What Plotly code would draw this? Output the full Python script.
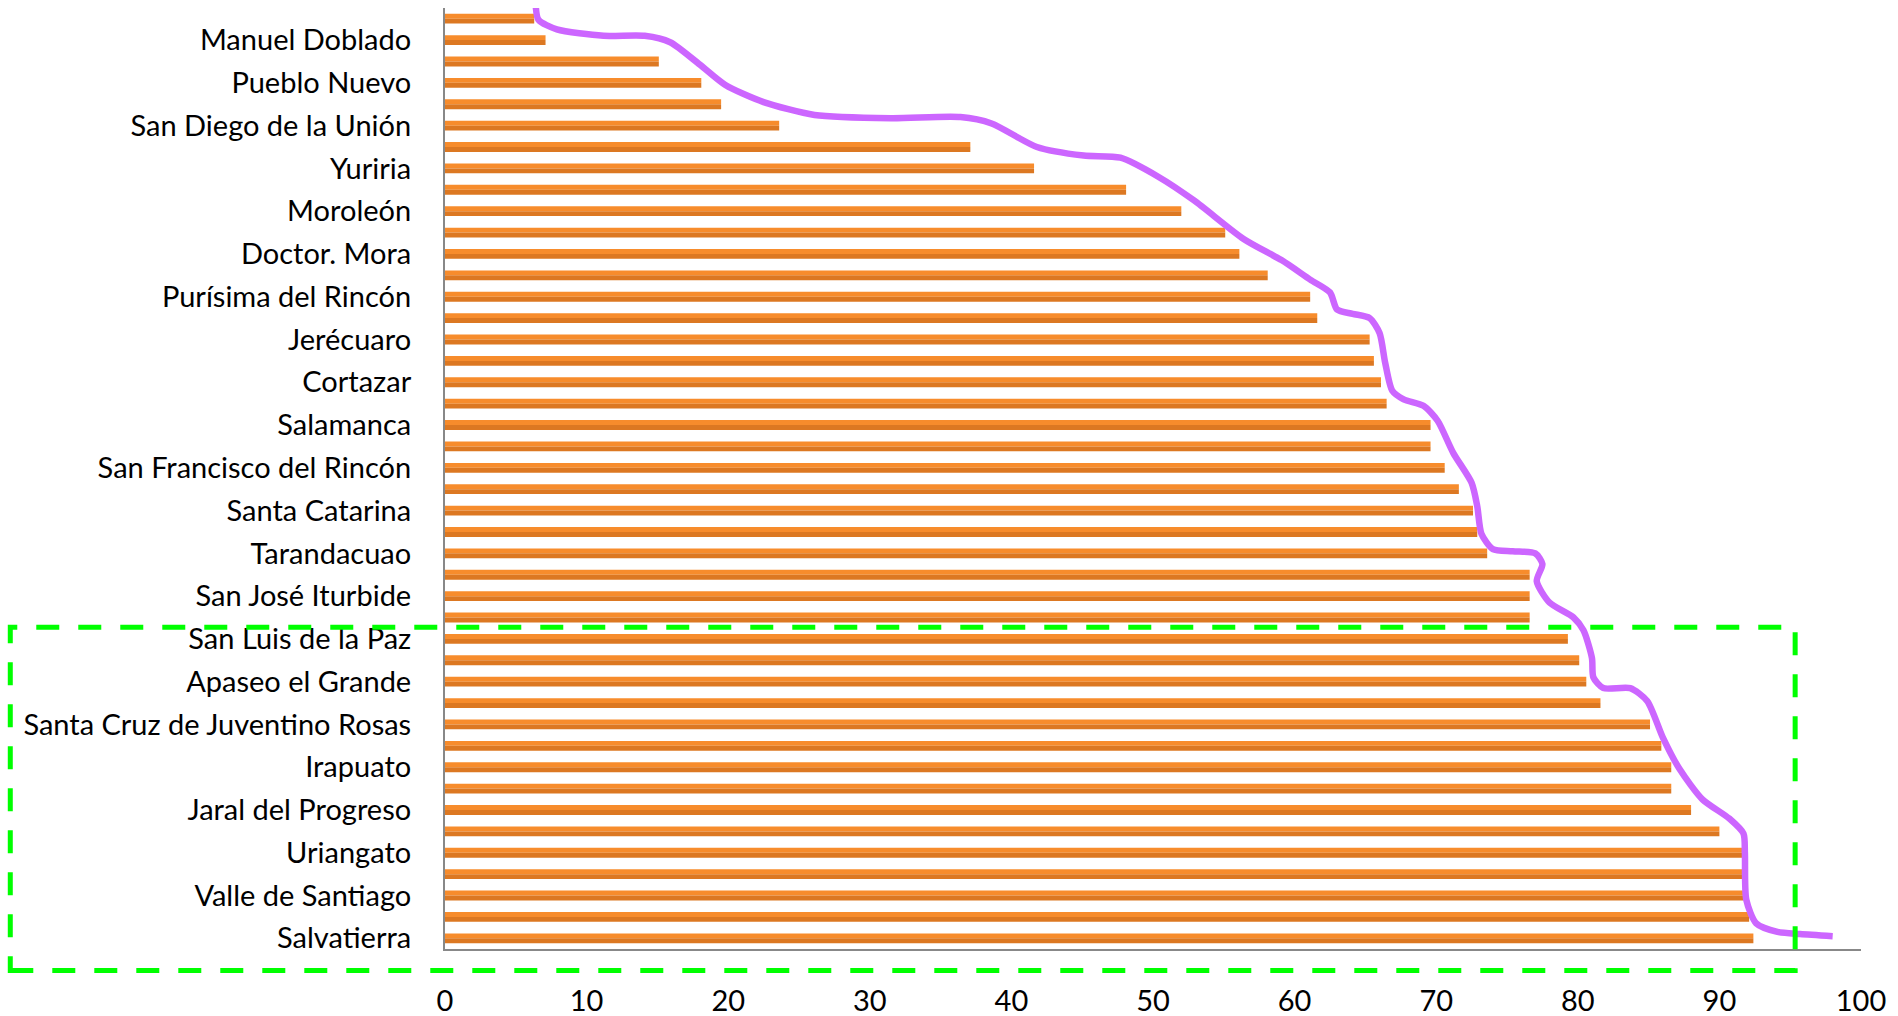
import plotly.graph_objects as go

# ---------------- data ----------------
# 44 municipalities, top to bottom; only every other one carries a visible label
labels_shown = [
    "Manuel Doblado", "Pueblo Nuevo", "San Diego de la Unión", "Yuriria",
    "Moroleón", "Doctor. Mora", "Purísima del Rincón", "Jerécuaro",
    "Cortazar", "Salamanca", "San Francisco del Rincón", "Santa Catarina",
    "Tarandacuao", "San José Iturbide", "San Luis de la Paz",
    "Apaseo el Grande", "Santa Cruz de Juventino Rosas", "Irapuato",
    "Jaral del Progreso", "Uriangato", "Valle de Santiago", "Salvatierra",
]

values = [
    6.3, 7.1, 15.1, 18.1, 19.5, 23.6, 37.1, 41.6, 48.1, 52.0, 55.1,
    56.1, 58.1, 61.1, 61.6, 65.3, 65.6, 66.1, 66.5, 69.6, 69.6, 70.6,
    71.6, 72.6, 72.9, 73.6, 76.6, 76.6, 76.6, 79.3, 80.1, 80.6, 81.6,
    85.1, 85.9, 86.6, 86.6, 88.0, 90.0, 91.6, 91.6, 91.7, 92.1, 92.4,
]

x_ticks = [0, 10, 20, 30, 40, 50, 60, 70, 80, 90, 100]

# hand-drawn purple outline (value, row position)
curve_x = [6.4, 6.6, 7.9, 11.2, 14.1, 15.9, 18.0, 19.8, 22.5, 26.1, 31.5,
           36.4, 38.6, 41.8, 45.1, 47.7, 50.4, 52.9, 56.4, 59.1, 61.1, 62.5,
           63.0, 64.1, 65.3, 66.0, 66.4, 66.9, 67.7, 69.1, 70.1, 71.2, 72.5,
           72.9, 73.2, 74.0, 75.4, 77.0, 77.5, 77.1, 78.0, 79.7, 80.4, 81.0,
           81.1, 81.8, 83.7, 84.9, 86.0, 87.2, 88.8, 90.7, 91.7, 91.8, 91.9,
           92.6, 94.1, 95.7, 98.0]
curve_y = [-0.7, 0.05, 0.5, 0.8, 0.8, 1.1, 2.15, 3.1, 3.9, 4.5, 4.65,
           4.6, 4.9, 6.0, 6.4, 6.5, 7.4, 8.5, 10.3, 11.3, 12.2, 12.8,
           13.6, 13.8, 14.0, 14.7, 16.1, 17.4, 17.8, 18.1, 18.8, 20.3, 21.7,
           22.8, 24.1, 24.8, 24.9, 25.0, 25.5, 26.3, 27.3, 28.0, 28.6, 29.9,
           30.8, 31.3, 31.3, 31.9, 33.6, 35.1, 36.5, 37.4, 38.1, 39.0, 41.2,
           42.3, 42.7, 42.8, 42.9]

# green dashed highlight box (data units: value range, row range)
box_x = [-30.7, 95.35]
box_y = [28.45, 44.5]

# ---------------- figure ----------------
n = len(values)
positions = list(range(n))
label_positions = positions[1::2]

X_RANGE = [0, 100]
Y_RANGE = [n - 0.5, -0.5]
BAR_W = 0.46

fig = go.Figure()

# bar drawn as a lighter upper half and a darker lower half (Excel-like gradient)
fig.add_trace(go.Bar(
    x=values, y=positions, orientation="h",
    width=BAR_W / 2, offset=-BAR_W / 2,
    marker=dict(color="#F78C2C", line=dict(width=0)),
    showlegend=False, hoverinfo="x",
))
fig.add_trace(go.Bar(
    x=values, y=positions, orientation="h",
    width=BAR_W / 2, offset=0,
    marker=dict(color="#DC7822", line=dict(width=0)),
    showlegend=False, hoverinfo="skip",
))

fig.add_trace(go.Scatter(
    x=curve_x, y=curve_y, mode="lines",
    line=dict(color="#CC66FF", width=6.5, shape="spline", smoothing=0.7),
    showlegend=False, hoverinfo="skip",
))


def to_paper_x(v):
    return (v - X_RANGE[0]) / (X_RANGE[1] - X_RANGE[0])


def to_paper_y(v):
    return (Y_RANGE[0] - v) / (Y_RANGE[0] - Y_RANGE[1])


fig.add_shape(
    type="rect", xref="paper", yref="paper",
    x0=to_paper_x(box_x[0]), x1=to_paper_x(box_x[1]),
    y0=to_paper_y(box_y[1]), y1=to_paper_y(box_y[0]),
    line=dict(color="#00FF00", width=5, dash="23px,19px"),
    fillcolor="rgba(0,0,0,0)", layer="above",
)

fig.update_layout(
    width=1898, height=1016,
    margin=dict(l=445, r=37, t=8, b=67, autoexpand=False),
    paper_bgcolor="white", plot_bgcolor="white",
    font=dict(family="Lato, Carlito, Calibri, sans-serif", size=29, color="black"),
    barmode="overlay",
    showlegend=False,
)

fig.update_xaxes(
    range=X_RANGE, tickvals=x_ticks, ticks="",
    showgrid=False, zeroline=False, automargin=False,
    showline=True, linecolor="#888888", linewidth=2,
    ticklabelstandoff=25,
    fixedrange=True,
)

fig.update_yaxes(
    range=Y_RANGE, tickvals=label_positions, ticktext=labels_shown,
    ticks="", showgrid=False, zeroline=False, automargin=False,
    showline=True, linecolor="#888888", linewidth=2,
    ticklabelstandoff=26,
    fixedrange=True,
)

# remove the browser's default body margin so the figure fills the window exactly
fig.write_html(
    "out.html",
    config={"displayModeBar": False},
    post_script="document.body.style.margin='0';",
)
